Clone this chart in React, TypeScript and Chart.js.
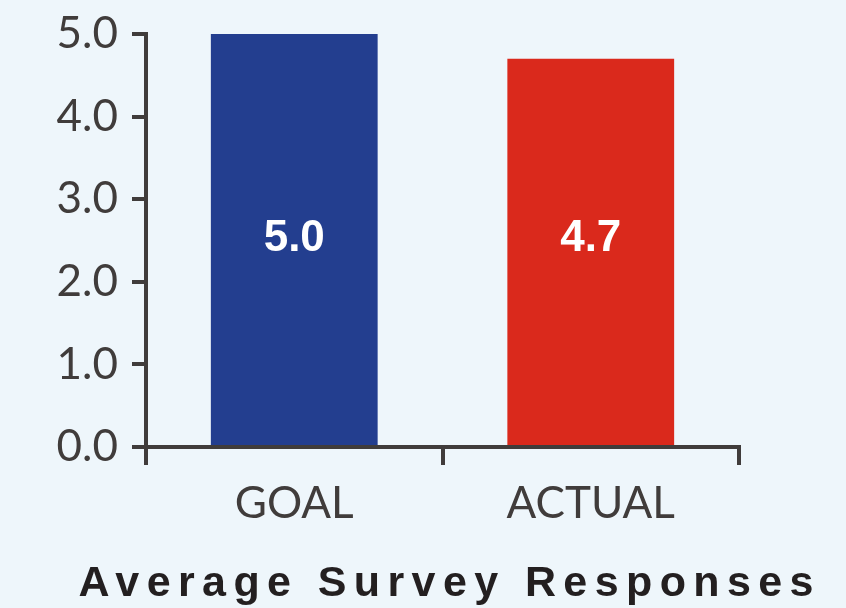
import React, { useEffect, useRef } from "react";
import { Chart, registerables } from "chart.js";

Chart.register(...registerables);

const categories = ["GOAL", "ACTUAL"];
const values = [5.0, 4.7];
const barColors = ["#233E8F", "#DA291C"];
const yTicks = [0, 1, 2, 3, 4, 5];
const chartTitle = "Average Survey Responses";
const labelLevel = 2.5;

const AXIS = "#403C3B";
const BG = "#EEF6FB";

export default function App() {
  const ref = useRef<HTMLCanvasElement | null>(null);

  useEffect(() => {
    const canvas = ref.current;
    if (!canvas) return;

    const valueLabels = {
      id: "valueLabels",
      afterDatasetsDraw(chart: any) {
        const ctx = chart.ctx;
        const meta = chart.getDatasetMeta(0);
        const y = chart.scales.y.getPixelForValue(labelLevel);
        ctx.save();
        ctx.font = 'bold 44px "Liberation Sans", Arial, sans-serif';
        ctx.fillStyle = "#FFFFFF";
        ctx.textAlign = "center";
        ctx.textBaseline = "middle";
        meta.data.forEach((bar: any, i: number) => {
          ctx.fillText(values[i].toFixed(1), bar.x, y - 2);
        });
        ctx.restore();
      },
    };

    const bottomTitle = {
      id: "bottomTitle",
      afterDraw(chart: any) {
        const ctx = chart.ctx;
        const spacing = 7.4;
        ctx.save();
        ctx.font = 'bold 43px "Liberation Sans", Arial, sans-serif';
        (ctx as any).letterSpacing = spacing + "px";
        ctx.fillStyle = "#231F20";
        ctx.textAlign = "left";
        ctx.textBaseline = "alphabetic";
        const w = ctx.measureText(chartTitle).width - spacing;
        const cx = 446;
        ctx.fillText(chartTitle, cx - w / 2, 596);
        ctx.restore();
      },
    };

    const chart = new Chart(canvas, {
      type: "bar",
      data: {
        labels: categories,
        datasets: [
          {
            data: values,
            backgroundColor: barColors,
            borderWidth: 0,
            categoryPercentage: 1,
            barPercentage: 0.5625,
          },
        ],
      },
      options: {
        responsive: false,
        animation: false,
        devicePixelRatio: 1,
        layout: { padding: { left: 0, top: 34, right: 107, bottom: 0 } },
        plugins: {
          legend: { display: false },
          title: { display: false },
          tooltip: { enabled: false },
        },
        scales: {
          x: {
            z: 1,
            offset: true,
            grid: {
              offset: true,
              drawOnChartArea: false,
              drawTicks: true,
              tickLength: 18,
              color: AXIS,
              lineWidth: 4,
            },
            border: { display: true, color: AXIS, width: 4 },
            ticks: {
              color: AXIS,
              padding: 12,
              font: { family: "Lato, sans-serif", size: 44, weight: "normal" },
            },
            afterFit(scale: any) {
              scale.height = 161;
              scale.paddingLeft = 0;
              scale.paddingRight = 0;
            },
          },
          y: {
            z: 1,
            min: 0,
            max: 5,
            afterBuildTicks(scale: any) {
              scale.ticks = yTicks.map((v) => ({ value: v }));
            },
            grid: {
              drawOnChartArea: false,
              drawTicks: true,
              tickLength: 14,
              color: AXIS,
              lineWidth: 4,
            },
            border: { display: true, color: AXIS, width: 4 },
            ticks: {
              color: AXIS,
              padding: 14,
              font: { family: "Lato, sans-serif", size: 44, weight: "normal" },
              callback: (v: any) => Number(v).toFixed(1),
            },
            afterFit(scale: any) {
              scale.width = 146;
              scale.paddingTop = 0;
              scale.paddingBottom = 0;
            },
          },
        },
      },
      plugins: [valueLabels, bottomTitle],
    });

    return () => chart.destroy();
  }, []);

  return (
    <div
      style={{
        position: "absolute",
        left: 0,
        top: 0,
        width: 846,
        height: 608,
        background: BG,
      }}
    >
      <canvas ref={ref} width={846} height={608} style={{ display: "block" }} />
    </div>
  );
}
